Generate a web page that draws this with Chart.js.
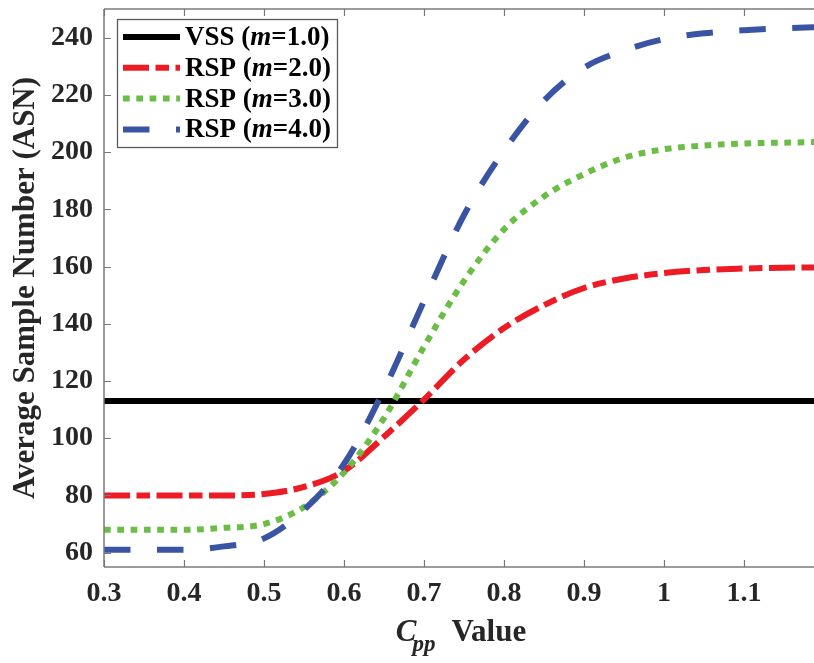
<!DOCTYPE html>
<html>
<head>
<meta charset="utf-8">
<script src="https://cdn.jsdelivr.net/npm/chart.js@4/dist/chart.umd.min.js"></script>
<style>
  html, body { margin: 0; padding: 0; background: #ffffff; }
  canvas { display: block; }
</style>
</head>
<body>
<canvas id="c" width="814" height="663"></canvas>
<script>
// ---- data ----
const cppValues = [0.30, 0.35, 0.40, 0.45, 0.50, 0.55, 0.60, 0.65, 0.70, 0.75, 0.80, 0.85, 0.90, 0.95, 1.00, 1.05, 1.10, 1.15, 1.19];
const asnM2 = [80, 80, 80, 80, 80.5, 83, 88.6, 100.5, 113.5, 127.5, 138.5, 146.5, 152.5, 155.8, 157.7, 158.8, 159.3, 159.6, 159.7];
const asnM3 = [68, 68, 68, 68.7, 70, 76, 88, 107, 132, 155, 173, 184.5, 192.3, 198, 201, 202.3, 203, 203.3, 203.5];
const asnM4 = [61, 61, 61, 62.2, 65, 75, 91, 117, 148, 178, 200.5, 218, 229.5, 235.5, 239.5, 241.5, 242.6, 243.3, 243.6];
const vssX = [0.30, 1.19];
const vssAsn = [113, 113];
const seriesNames = ['VSS', 'RSP', 'RSP', 'RSP'];
const mValues = ['1.0', '2.0', '3.0', '4.0'];
const xTicks = [0.3, 0.4, 0.5, 0.6, 0.7, 0.8, 0.9, 1.0, 1.1];
const yTicks = [60, 80, 100, 120, 140, 160, 180, 200, 220, 240];
const xTitleMain = 'C';
const xTitleSub = 'pp';
const xTitleRest = 'Value';
const yTitle = 'Average Sample Number (ASN)';

const pts = (xs, ys) => xs.map((x, i) => ({ x: x, y: ys[i] }));

const AXIS_COLOR = '#7a7a7a';
const TEXT_COLOR = '#262626';
const FONT = '"Liberation Serif", "Times New Roman", serif';

const decorPlugin = {
  id: 'decor',
  afterDraw(chart) {
    const ctx = chart.ctx;
    const a = chart.chartArea;
    const xs = chart.scales.x, ys = chart.scales.y;
    ctx.save();
    // axes box (left, bottom, top)
    ctx.strokeStyle = AXIS_COLOR;
    ctx.lineWidth = 1.5;
    ctx.beginPath();
    ctx.moveTo(a.left, a.top); ctx.lineTo(a.left, a.bottom);
    ctx.moveTo(a.left, a.bottom); ctx.lineTo(a.right, a.bottom);
    ctx.moveTo(a.left, a.top); ctx.lineTo(a.right, a.top);
    ctx.stroke();
    // inward ticks
    ctx.lineWidth = 1.2;
    ctx.beginPath();
    xTicks.forEach(v => {
      const px = Math.round(xs.getPixelForValue(v)) + 0.5;
      ctx.moveTo(px, a.bottom); ctx.lineTo(px, a.bottom - 7);
      ctx.moveTo(px, a.top); ctx.lineTo(px, a.top + 7);
    });
    yTicks.forEach(v => {
      const py = Math.round(ys.getPixelForValue(v)) + 0.5;
      ctx.moveTo(a.left, py); ctx.lineTo(a.left + 7, py);
    });
    ctx.stroke();

    // y title
    ctx.fillStyle = TEXT_COLOR;
    ctx.font = 'bold 31px ' + FONT;
    ctx.textAlign = 'center';
    ctx.textBaseline = 'middle';
    ctx.translate(26, (a.top + a.bottom) / 2);
    ctx.rotate(-Math.PI / 2);
    ctx.fillText(yTitle, 0, 0);
    ctx.setTransform(1, 0, 0, 1, 0, 0);

    // x title: C_pp Value
    ctx.textAlign = 'left';
    ctx.textBaseline = 'alphabetic';
    const fMain = 'italic bold 31px ' + FONT;
    const fSub = 'italic bold 23px ' + FONT;
    const fRest = 'bold 31px ' + FONT;
    ctx.font = fMain; const wC = ctx.measureText(xTitleMain).width;
    ctx.font = fSub; const wS = ctx.measureText(xTitleSub).width;
    ctx.font = fRest; const wR = ctx.measureText(xTitleRest).width;
    const gap = 16;
    const total = wC - 4 + wS + gap + wR;
    let tx = (a.left + a.right) / 2 - total / 2 + 2;
    const base = 641;
    ctx.font = fMain; ctx.fillText(xTitleMain, tx, base);
    tx += wC - 4;
    ctx.font = fSub; ctx.fillText(xTitleSub, tx, base + 10);
    tx += wS + gap;
    ctx.font = fRest; ctx.fillText(xTitleRest, tx, base);

    // legend
    const L = a.left + 13, T = a.top + 10, W = 220, H = 128;
    ctx.fillStyle = '#ffffff';
    ctx.fillRect(L, T, W, H);
    ctx.strokeStyle = '#5a5a5a';
    ctx.lineWidth = 1.3;
    ctx.strokeRect(L + 0.5, T + 0.5, W, H);
    chart.data.datasets.forEach((ds, i) => {
      const cy = T + 18 + i * 30.8;
      ctx.save();
      ctx.strokeStyle = ds.borderColor;
      ctx.lineWidth = ds.borderWidth;
      ctx.lineCap = 'butt';
      ctx.setLineDash(ds.borderDash || []);
      ctx.beginPath();
      ctx.moveTo(L + 6, cy); ctx.lineTo(L + 63, cy);
      ctx.stroke();
      ctx.restore();
      ctx.fillStyle = '#000000';
      ctx.textBaseline = 'middle';
      let lx = L + 68;
      const parts = [
        [seriesNames[i] + ' (', 'bold 27px ' + FONT],
        ['m', 'italic bold 27px ' + FONT],
        ['=' + mValues[i] + ')', 'bold 27px ' + FONT]
      ];
      parts.forEach(p => {
        ctx.font = p[1];
        ctx.fillText(p[0], lx, cy + 1);
        lx += ctx.measureText(p[0]).width;
      });
    });
    ctx.restore();
  }
};

new Chart(document.getElementById('c'), {
  type: 'line',
  data: {
    datasets: [
      { label: 'VSS (m=1.0)', data: pts(vssX, vssAsn), borderColor: '#000000', borderWidth: 6, borderDash: [], order: 4 },
      { label: 'RSP (m=2.0)', data: pts(cppValues, asnM2), borderColor: '#ed1c24', borderWidth: 6, borderDash: [26, 6.5, 13.5, 6.5], order: 3 },
      { label: 'RSP (m=3.0)', data: pts(cppValues, asnM3), borderColor: '#6abd45', borderWidth: 6, borderDash: [6.7, 6.6], order: 2 },
      { label: 'RSP (m=4.0)', data: pts(cppValues, asnM4), borderColor: '#3a54a4', borderWidth: 6, borderDash: [26.5, 26.5], order: 1 }
    ]
  },
  options: {
    responsive: false,
    animation: false,
    devicePixelRatio: 1,
    elements: {
      point: { radius: 0, hoverRadius: 0 },
      line: { cubicInterpolationMode: 'monotone', borderCapStyle: 'butt', fill: false }
    },
    layout: { padding: { top: 9, right: 0, left: 0, bottom: 0 } },
    plugins: { legend: { display: false }, tooltip: { enabled: false } },
    scales: {
      x: {
        type: 'linear',
        min: 0.3,
        max: 1.1875,
        grid: { display: false, drawTicks: false },
        border: { display: false },
        afterFit: s => { s.height = 96; s.paddingLeft = 0; s.paddingRight = 0; },
        afterBuildTicks: s => { s.ticks = xTicks.map(v => ({ value: v })); },
        ticks: {
          color: TEXT_COLOR,
          font: { family: FONT, size: 28, weight: 'bold' },
          padding: 10,
          maxRotation: 0,
          autoSkip: false,
          callback: v => String(Number(v.toFixed(1)))
        }
      },
      y: {
        type: 'linear',
        min: 55,
        max: 250,
        grid: { display: false, drawTicks: false },
        border: { display: false },
        afterFit: s => { s.width = 104; s.paddingTop = 0; s.paddingBottom = 0; },
        afterBuildTicks: s => { s.ticks = yTicks.map(v => ({ value: v })); },
        ticks: {
          color: TEXT_COLOR,
          font: { family: FONT, size: 28, weight: 'bold' },
          padding: 11,
          autoSkip: false
        }
      }
    }
  },
  plugins: [decorPlugin]
});
</script>
</body>
</html>
